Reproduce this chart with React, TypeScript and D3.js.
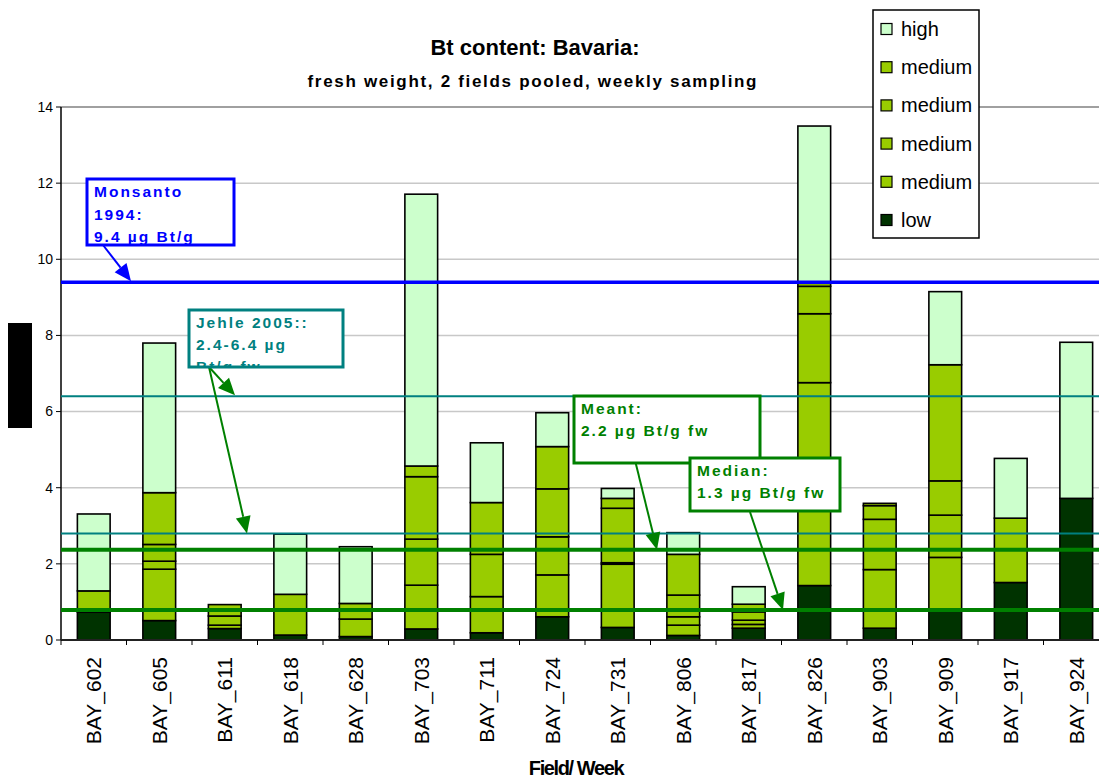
import React from 'react';
import * as d3 from 'd3';

// fields / sampling weeks
const categories = ['BAY_602', 'BAY_605', 'BAY_611', 'BAY_618', 'BAY_628', 'BAY_703', 'BAY_711', 'BAY_724',
  'BAY_731', 'BAY_806', 'BAY_817', 'BAY_826', 'BAY_903', 'BAY_909', 'BAY_917', 'BAY_924'];

// stacked segments, bottom to top (µg Bt/g fw)
const low =     [0.73, 0.51, 0.30, 0.13, 0.09, 0.29, 0.19, 0.61, 0.33, 0.12, 0.31, 1.43, 0.31, 0.76, 1.51, 3.72];
const medium1 = [0.56, 1.35, 0.09, 1.07, 0.46, 1.15, 0.95, 1.10, 1.66, 0.27, 0.10, 5.33, 1.54, 1.41, 1.69, 0];
const medium2 = [0, 0.21, 0.24, 0, 0.41, 1.21, 1.11, 1.00, 0.04, 0.22, 0.11, 1.81, 1.32, 1.11, 0, 0];
const medium3 = [0, 0.44, 0.30, 0, 0, 1.64, 1.36, 1.26, 1.43, 0.57, 0.22, 0.72, 0.36, 0.90, 0, 0];
const medium4 = [0, 1.36, 0, 0, 0, 0.28, 0, 1.11, 0.26, 1.07, 0.20, 0.08, 0.06, 3.05, 0, 0];
const high =    [2.02, 3.93, 0, 1.58, 1.49, 7.14, 1.57, 0.89, 0.26, 0.57, 0.46, 4.13, 0, 1.92, 1.57, 4.10];

const seriesKeys = ['low', 'medium1', 'medium2', 'medium3', 'medium4', 'high'];
const seriesColors = ['#003300', '#99cc00', '#99cc00', '#99cc00', '#99cc00', '#ccffcc'];
const legendLabels = ['high', 'medium', 'medium', 'medium', 'medium', 'low'];
const legendColors = ['#ccffcc', '#99cc00', '#99cc00', '#99cc00', '#99cc00', '#003300'];

const yTicks = [0, 2, 4, 6, 8, 10, 12, 14];

// reference levels
const monsantoLevel = 9.4;
const jehleHigh = 6.4;
const jehleLow = 2.8;
const meanLevel = 2.37;
const medianLevel = 0.79;

const FONT = '"Liberation Sans", Arial, Helvetica, sans-serif';

const table = categories.map((c, i) => ({
  cat: c, low: low[i], medium1: medium1[i], medium2: medium2[i], medium3: medium3[i], medium4: medium4[i], high: high[i],
}));

const y = d3.scaleLinear().domain([0, 14]).range([640, 107]);
const x = d3.scaleBand().domain(categories).range([61, 61 + 16 * 65.5]).paddingInner(0.5).paddingOuter(0.25);

function Arrow({ x1, y1, x2, y2, color }) {
  const ang = Math.atan2(y2 - y1, x2 - x1);
  const len = 17, hw = 7.5;
  const bx = x2 - len * Math.cos(ang), by = y2 - len * Math.sin(ang);
  const px = -Math.sin(ang) * hw, py = Math.cos(ang) * hw;
  return (
    <g>
      <line x1={x1} y1={y1} x2={bx} y2={by} stroke={color} strokeWidth={2} />
      <polygon points={`${x2},${y2} ${bx + px},${by + py} ${bx - px},${by - py}`} fill={color} />
    </g>
  );
}

function NoteBox({ id, x0, y0, w, h, color, lines, lh }) {
  return (
    <g>
      <clipPath id={id}><rect x={x0} y={y0} width={w} height={h} /></clipPath>
      <rect x={x0} y={y0} width={w} height={h} fill="#fff" />
      <g clipPath={`url(#${id})`}>
        {lines.map((t, i) => (
          <text key={i} x={x0 + 7} y={y0 + 18 + i * lh} fill={color} fontFamily={FONT}
            fontWeight="bold" fontSize={15.5} letterSpacing={2}>{t}</text>
        ))}
      </g>
      <rect x={x0} y={y0} width={w} height={h} fill="none" stroke={color} strokeWidth={3} />
    </g>
  );
}

export default function App() {
  const stacked = d3.stack().keys(seriesKeys)(table);
  const bw = x.bandwidth();
  const cx = (c) => x(c) + bw / 2;

  return (
    <svg width={1099} height={778} style={{ position: 'absolute', left: 0, top: 0, background: '#fff' }}>
      {/* title */}
      <text x={535} y={55} textAnchor="middle" fontFamily={FONT} fontWeight="bold" fontSize={22}>Bt content: Bavaria:</text>
      <text x={532} y={87} textAnchor="middle" fontFamily={FONT} fontWeight="bold" fontSize={17}
        textLength={449} lengthAdjust="spacing">fresh weight, 2 fields pooled, weekly sampling</text>

      {/* gridlines */}
      {yTicks.filter((t) => t > 0).map((t) => (
        <line key={t} x1={61} x2={1099} y1={y(t)} y2={y(t)} stroke={t === 14 ? '#808080' : '#c8c8c8'} strokeWidth={1.5} />
      ))}

      {/* y axis */}
      <line x1={61} x2={61} y1={y(14)} y2={y(0)} stroke="#000" strokeWidth={1.5} />
      {yTicks.map((t) => (
        <g key={t}>
          <line x1={56} x2={61} y1={y(t)} y2={y(t)} stroke="#000" />
          <text x={53} y={y(t)} dy="0.35em" textAnchor="end" fontFamily={FONT} fontSize={14}>{t}</text>
        </g>
      ))}
      <rect x={8} y={323} width={24} height={105} fill="#000" />
      <text transform="translate(26,375) rotate(-90)" textAnchor="middle" fontFamily={FONT} fontWeight="bold"
        fontSize={16} fill="#000">µg Bt/g fw</text>

      {/* bars */}
      {stacked.map((s, si) => (
        <g key={s.key}>
          {s.map((d, i) => (d[1] - d[0] > 0 ? (
            <rect key={i} x={x(categories[i])} width={bw} y={y(d[1])} height={y(d[0]) - y(d[1])}
              fill={seriesColors[si]} stroke="#000" strokeWidth={1.6} />
          ) : null))}
        </g>
      ))}

      {/* x axis */}
      <line x1={61} x2={1099} y1={y(0)} y2={y(0)} stroke="#222" strokeWidth={2} />
      {categories.map((c) => (
        <line key={c} x1={x(c) - x.step() * 0.25} x2={x(c) - x.step() * 0.25} y1={640} y2={645} stroke="#000" />
      ))}
      {categories.map((c) => (
        <text key={c} transform={`translate(${cx(c) + 7.5},657) rotate(-90)`} textAnchor="end"
          fontFamily={FONT} fontSize={21}>{c}</text>
      ))}
      <text x={576} y={775} textAnchor="middle" fontFamily={FONT} fontWeight="bold" fontSize={20}
        letterSpacing={-1.4}>Field/ Week</text>

      {/* reference lines */}
      <line x1={61} x2={1099} y1={y(jehleHigh)} y2={y(jehleHigh)} stroke="#008080" strokeWidth={2} />
      <line x1={61} x2={1099} y1={y(jehleLow)} y2={y(jehleLow)} stroke="#008080" strokeWidth={2} />
      <line x1={61} x2={1099} y1={y(meanLevel)} y2={y(meanLevel)} stroke="#008000" strokeWidth={4} />
      <line x1={61} x2={1099} y1={y(medianLevel)} y2={y(medianLevel)} stroke="#008000" strokeWidth={4} />
      <line x1={61} x2={1099} y1={y(monsantoLevel)} y2={y(monsantoLevel)} stroke="#0000ff" strokeWidth={3.5} />

      {/* annotations */}
      <Arrow x1={103} y1={245} x2={131} y2={y(monsantoLevel) - 1} color="#0000ff" />
      <NoteBox id="nb1" x0={87} y0={179} w={147} h={66} color="#0000ff" lh={22.5}
        lines={['Monsanto', '1994:', '9.4 µg Bt/g']} />

      <Arrow x1={209} y1={367} x2={235} y2={y(jehleHigh) - 1} color="#008000" />
      <Arrow x1={209} y1={367} x2={247} y2={y(jehleLow)} color="#008000" />
      <NoteBox id="nb2" x0={189} y0={310} w={154} h={57} color="#008080" lh={22}
        lines={['Jehle 2005::', '2.4-6.4 µg', 'Bt/g fw']} />

      <Arrow x1={632} y1={448} x2={657} y2={y(meanLevel)} color="#008000" />
      <NoteBox id="nb3" x0={574} y0={396} w={186} h={67} color="#008000" lh={22}
        lines={['Meant:', '2.2 µg Bt/g fw']} />

      <Arrow x1={750} y1={512} x2={783} y2={y(medianLevel)} color="#008000" />
      <NoteBox id="nb4" x0={690} y0={458} w={150} h={53} color="#008000" lh={22}
        lines={['Median:', '1.3 µg Bt/g fw']} />

      {/* legend */}
      <rect x={873} y={10} width={106} height={228} fill="#fff" stroke="#000" strokeWidth={1.5} />
      {legendLabels.map((l, i) => (
        <g key={i}>
          <rect x={881} y={23.5 + i * 38.2} width={11} height={11} fill={legendColors[i]} stroke="#000" strokeWidth={1.2} />
          <text x={901} y={29 + i * 38.2} dy="0.35em" fontFamily={FONT} fontSize={20}>{l}</text>
        </g>
      ))}
    </svg>
  );
}
